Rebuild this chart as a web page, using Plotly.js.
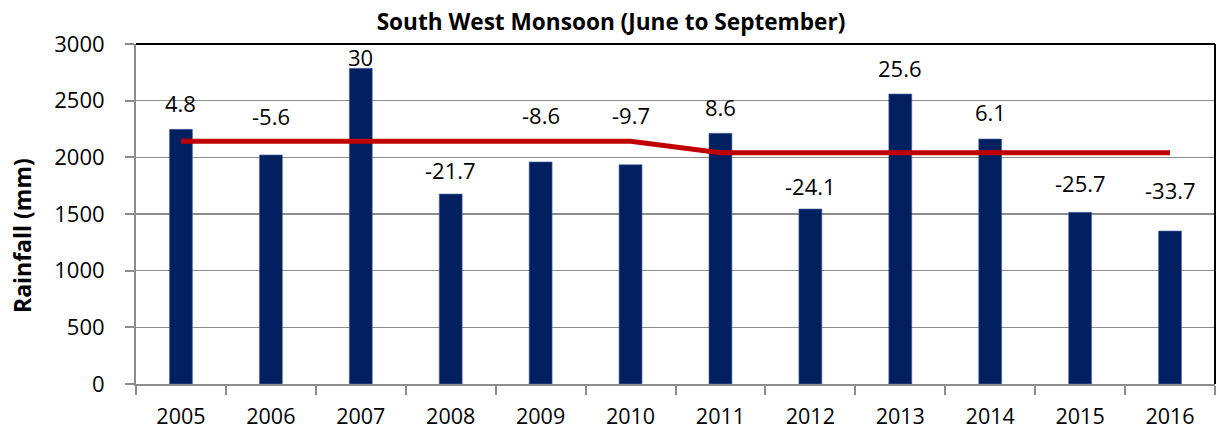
<!DOCTYPE html>
<html>
<head>
<meta charset="utf-8">
<script src="https://cdn.plot.ly/plotly-3.0.1.min.js"></script>
<style>html,body{margin:0;padding:0;background:#fff;}#chart{width:1217px;height:430px;}</style>
</head>
<body>
<div id="chart"></div>
<script>
const years = ['2005','2006','2007','2008','2009','2010','2011','2012','2013','2014','2015','2016'];
const rainfall = [2247, 2021, 2785, 1676, 1959, 1935, 2212, 1544, 2559, 2162, 1515, 1350];
const normalRainfall = [2141, 2141, 2141, 2141, 2141, 2141, 2041, 2041, 2041, 2041, 2041, 2041];
const departure = ['4.8','-5.6','30','-21.7','-8.6','-9.7','8.6','-24.1','25.6','6.1','-25.7','-33.7'];
const yTicks = [0, 500, 1000, 1500, 2000, 2500, 3000];

// pixel lift of each departure label above its bar top (layout only)
const labelLift = [26, 39, 11, 24, 47, 50, 26, 23, 26, 27, 29, 41];

const FONT = 'Open Sans, Noto Sans, sans-serif';

const traces = [
  {
    type: 'bar',
    x: years,
    y: rainfall,
    width: 0.255,
    marker: {color: '#022060', line: {color: '#4a6aa5', width: 0.6}},
    hoverinfo: 'x+y',
    showlegend: false
  },
  {
    type: 'scatter',
    mode: 'lines',
    x: years,
    y: normalRainfall,
    line: {color: '#C00000', width: 5},
    hoverinfo: 'x+y',
    showlegend: false
  }
];

const annotations = years.map((yr, i) => ({
  x: i, y: rainfall[i], xref: 'x', yref: 'y',
  text: departure[i], showarrow: false,
  yanchor: 'middle', yshift: labelLift[i],
  font: {family: FONT, size: 22, color: '#000'}
}));

annotations.push({
  xref: 'paper', yref: 'paper',
  x: (22 - 136) / 1079, y: (384 - 236) / 340,
  xanchor: 'center', yanchor: 'middle',
  text: '<b>Rainfall (mm)</b>', textangle: -90, showarrow: false,
  font: {family: FONT, size: 23, color: '#000'}
});

const layout = {
  width: 1217, height: 430,
  margin: {l: 136, r: 2, t: 44, b: 46, pad: 0},
  paper_bgcolor: '#fff', plot_bgcolor: '#fff',
  title: {
    text: '<b>South West Monsoon (June to September)</b>',
    font: {family: FONT, size: 22.6, color: '#000'},
    x: 611/1217, xanchor: 'center', xref: 'container',
    y: 1 - 22/430, yanchor: 'middle', yref: 'container'
  },
  xaxis: {
    type: 'category',
    tickson: 'boundaries',
    ticks: 'outside', ticklen: 9, tickwidth: 2, tickcolor: '#8c8c8c',
    showline: true, linecolor: '#8c8c8c', linewidth: 2,
    showgrid: false, zeroline: false,
    ticklabelstandoff: 12,
    tickfont: {family: FONT, size: 21.5, color: '#000'},
    range: [-0.5, 11.5], fixedrange: true
  },
  yaxis: {
    range: [0, 3000],
    tickvals: yTicks,
    ticks: 'outside', ticklen: 9, tickwidth: 2, tickcolor: '#8c8c8c',
    showline: true, linecolor: '#8c8c8c', linewidth: 2,
    showgrid: true, gridcolor: '#8c8c8c', gridwidth: 1.6,
    zeroline: false,
    ticklabelstandoff: 16,
    tickfont: {family: FONT, size: 22, color: '#000'},
    fixedrange: true
  },
  shapes: [
    {type: 'line', xref: 'paper', yref: 'paper', x0: 0, x1: 1, y0: 1, y1: 1, line: {color: '#000', width: 2}},
    {type: 'line', xref: 'paper', yref: 'paper', x0: 1, x1: 1, y0: 0, y1: 1, line: {color: '#000', width: 2}}
  ],
  annotations: annotations
};

Plotly.newPlot('chart', traces, layout, {displayModeBar: false, staticPlot: true});
</script>
</body>
</html>
